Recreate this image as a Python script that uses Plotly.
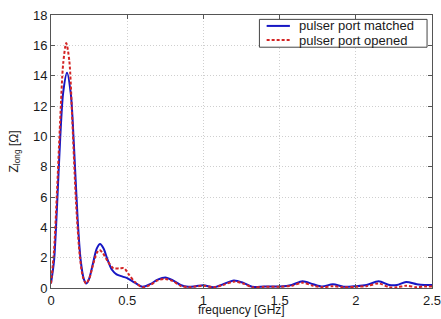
import plotly.graph_objects as go

# frequency [GHz] and Z_long [Ohm]
f_matched = [0, 0.02, 0.04, 0.06, 0.08, 0.105, 0.13, 0.15, 0.175, 0.195, 0.215, 0.232,
             0.25, 0.275, 0.3, 0.322, 0.345, 0.37, 0.4, 0.43, 0.47, 0.5, 0.55, 0.6,
             0.65, 0.7, 0.75, 0.8, 0.85, 0.9, 0.95, 1.0, 1.07, 1.13, 1.2, 1.26, 1.32,
             1.4, 1.5, 1.58, 1.65, 1.72, 1.78, 1.85, 1.92, 2.0, 2.07, 2.15, 2.22, 2.27,
             2.33, 2.4, 2.45, 2.5]
z_matched = [0.3, 1.8, 5.5, 9.8, 12.9, 14.2, 12.8, 9.5, 4.5, 1.8, 0.6, 0.3,
             0.6, 1.6, 2.6, 2.9, 2.6, 1.9, 1.2, 0.9, 0.75, 0.65, 0.35, 0.08,
             0.25, 0.55, 0.7, 0.5, 0.2, 0.08, 0.12, 0.18, 0.05, 0.25, 0.5, 0.35, 0.08,
             0.1, 0.1, 0.2, 0.45, 0.25, 0.1, 0.25, 0.08, 0.12, 0.2, 0.45, 0.2, 0.2,
             0.4, 0.25, 0.2, 0.2]

f_opened = [0, 0.02, 0.04, 0.06, 0.08, 0.1, 0.12, 0.14, 0.165, 0.19, 0.21, 0.23,
            0.25, 0.275, 0.3, 0.318, 0.34, 0.37, 0.41, 0.45, 0.48, 0.51, 0.55, 0.6,
            0.65, 0.7, 0.75, 0.8, 0.85, 0.9, 0.95, 1.0, 1.07, 1.13, 1.2, 1.26, 1.32,
            1.4, 1.5, 1.58, 1.65, 1.72, 1.78, 1.85, 1.92, 2.0, 2.07, 2.15, 2.22, 2.27,
            2.33, 2.4, 2.45, 2.5]
z_opened = [0.3, 2.5, 6.5, 11.0, 14.8, 16.15, 15.0, 11.0, 5.5, 2.0, 0.7, 0.3,
            0.6, 1.5, 2.3, 2.5, 2.3, 1.8, 1.3, 1.3, 1.3, 0.9, 0.4, 0.05,
            0.2, 0.5, 0.6, 0.45, 0.15, 0.05, 0.1, 0.15, 0.05, 0.2, 0.42, 0.3, 0.05,
            0.08, 0.08, 0.15, 0.35, 0.15, 0.05, 0.12, 0.05, 0.08, 0.12, 0.3, 0.05, 0.05,
            0.15, 0.05, 0.1, 0.1]

series_names = ["pulser port matched", "pulser port opened"]
series_colors = ["#1616c4", "#d42424"]
series_dash = ["solid", "3px,2px"]

x_ticks = [0, 0.5, 1, 1.5, 2, 2.5]
x_tick_labels = ["0", "0.5", "1", "1.5", "2", "2.5"]
y_ticks = [0, 2, 4, 6, 8, 10, 12, 14, 16, 18]

fig = go.Figure()
for xs, ys, name, col, dash in zip([f_matched, f_opened], [z_matched, z_opened],
                                   series_names, series_colors, series_dash):
    fig.add_trace(go.Scatter(x=xs, y=ys, mode="lines", name=name, showlegend=False,
                             line=dict(color=col, width=2, dash=dash,
                                       shape="spline", smoothing=0.8)))

FONT = "Liberation Sans, Arial, sans-serif"
axis_common = dict(showline=True, linecolor="#555", linewidth=1, mirror="ticks",
                   ticks="inside", ticklen=4, tickcolor="#555", automargin=False,
                   ticklabeloverflow="allow",
                   showgrid=True, gridcolor="#cfcfcf", griddash="1px,2px", gridwidth=1,
                   zeroline=False, tickfont=dict(size=13, color="#1a1a1a"))

# legend box drawn in the top-right corner (paper coordinates)
shapes = [dict(type="rect", xref="paper", yref="paper", x0=0.547, x1=0.987, y0=0.882, y1=0.984,
               line=dict(color="#444", width=1), fillcolor="white", layer="above")]
annotations = []
for i, (name, col, dash) in enumerate(zip(series_names, series_colors, series_dash)):
    yy = 0.96 - i * 0.052
    shapes.append(dict(type="line", xref="paper", yref="paper", x0=0.566, x1=0.627, y0=yy, y1=yy,
                       line=dict(color=col, width=2, dash=dash), layer="above"))
    annotations.append(dict(text=name, xref="paper", yref="paper", x=0.645, y=yy,
                            xanchor="left", yanchor="middle", showarrow=False,
                            font=dict(family=FONT, size=13, color="#1a1a1a")))

annotations.append(dict(text="frequency [GHz]", xref="paper", yref="paper", x=0.5, y=-0.082,
                        xanchor="center", yanchor="middle", showarrow=False,
                        font=dict(family=FONT, size=12, color="#1a1a1a")))
annotations.append(dict(text="Z<sub>long</sub> [Ω]", xref="paper", yref="paper", x=-0.097, y=0.5,
                        xanchor="center", yanchor="middle", showarrow=False, textangle=-90,
                        font=dict(family=FONT, size=12, color="#1a1a1a")))

fig.update_layout(
    width=441, height=319,
    margin=dict(l=51, r=9, t=15, b=31, autoexpand=False),
    paper_bgcolor="white", plot_bgcolor="white",
    font=dict(family=FONT, size=12, color="#1a1a1a"),
    showlegend=False,
    xaxis=dict(range=[0, 2.5], tickvals=x_ticks, ticktext=x_tick_labels, ticklabelstandoff=0,
               **axis_common),
    yaxis=dict(range=[0, 18], tickvals=y_ticks, **axis_common),
    shapes=shapes,
    annotations=annotations,
)
fig.write_html("out.html", config={"displayModeBar": False},
               post_script="document.body.style.margin='0';document.body.style.padding='0';")
